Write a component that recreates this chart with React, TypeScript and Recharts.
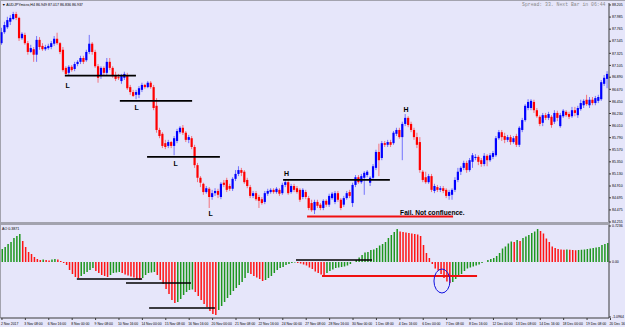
import React from 'react';
import { ComposedChart, Bar, XAxis, YAxis, ReferenceLine, ReferenceDot, Cell } from 'recharts';

const OPEN = [
  87.51, 87.71, 87.80, 87.90, 87.95, 88.04, 87.97, 87.60, 87.66, 87.51,
  87.35, 87.40, 87.30, 87.57, 87.46, 87.40, 87.42, 87.44, 87.50, 87.59,
  87.51, 87.39, 87.06, 86.97, 87.08, 87.04, 87.13, 87.17, 87.24, 87.20,
  87.35, 87.50, 87.35, 87.09, 86.91, 87.06, 86.97, 87.17, 87.06, 86.93,
  86.89, 86.82, 86.88, 86.93, 86.71, 86.62, 86.57, 86.57, 86.66, 86.75,
  86.71, 86.79, 86.71, 86.37, 85.93, 85.86, 85.69, 85.64, 85.71, 85.64,
  85.73, 85.89, 85.97, 85.88, 85.75, 85.78, 85.62, 85.29, 85.06, 84.95,
  84.80, 84.86, 84.71, 84.78, 84.82, 84.71, 84.97, 85.02, 84.91, 84.86,
  85.04, 85.13, 85.20, 85.17, 85.02, 84.89, 84.73, 84.78, 84.71, 84.67,
  84.62, 84.77, 84.80, 84.84, 84.80, 84.84, 84.78, 84.93, 84.98, 84.80,
  84.91, 84.87, 84.84, 84.71, 84.80, 84.69, 84.60, 84.47, 84.62, 84.57,
  84.51, 84.64, 84.57, 84.69, 84.62, 84.78, 84.66, 84.57, 84.69, 84.80,
  84.60, 84.93, 85.07, 84.98, 85.06, 85.11, 84.97, 85.06, 85.24, 85.53,
  85.42, 85.69, 85.66, 85.71, 85.69, 85.86, 85.93, 85.80, 86.04, 86.15,
  86.04, 85.93, 85.80, 85.71, 85.17, 85.07, 84.98, 85.09, 84.82, 84.89,
  84.84, 84.87, 84.84, 84.73, 84.75, 84.84, 85.02, 85.17, 85.24, 85.33,
  85.20, 85.35, 85.42, 85.44, 85.38, 85.31, 85.46, 85.38, 85.44, 85.47,
  85.78, 85.89, 85.82, 85.75, 85.80, 85.71, 85.82, 85.66, 85.93, 86.11,
  86.33, 86.33, 86.44, 86.29, 86.17, 86.06, 86.20, 86.15, 86.17, 86.08,
  86.24, 86.00, 86.18, 86.26, 86.22, 86.18, 86.29, 86.20, 86.31, 86.38,
  86.48, 86.38, 86.48, 86.42, 86.46, 86.49, 86.77, 86.86,
];
const HIGH = [
  87.79, 87.90, 87.99, 88.02, 88.08, 88.08, 87.99, 87.71, 87.70, 87.55,
  87.48, 87.44, 87.64, 87.62, 87.51, 87.48, 87.50, 87.55, 87.64, 87.70,
  87.53, 87.44, 87.09, 87.11, 87.11, 87.17, 87.20, 87.28, 87.28, 87.39,
  87.66, 87.53, 87.39, 87.13, 87.09, 87.09, 87.24, 87.24, 87.09, 86.99,
  86.95, 86.95, 86.99, 86.97, 86.75, 86.66, 86.66, 86.73, 86.79, 86.77,
  86.82, 86.82, 86.75, 86.51, 85.97, 85.89, 85.75, 85.75, 85.73, 85.82,
  85.95, 86.00, 86.02, 85.91, 85.84, 85.82, 85.66, 85.33, 85.09, 84.97,
  84.91, 84.89, 84.84, 84.87, 84.86, 84.98, 85.02, 85.06, 84.95, 85.07,
  85.20, 85.27, 85.24, 85.20, 85.06, 84.93, 84.82, 84.82, 84.75, 84.71,
  84.82, 84.86, 84.87, 84.87, 84.89, 84.87, 84.97, 85.02, 85.02, 84.95,
  84.95, 84.91, 84.87, 84.87, 84.84, 84.73, 84.66, 84.66, 84.66, 84.60,
  84.67, 84.67, 84.77, 84.80, 84.82, 84.82, 84.69, 84.73, 84.82, 84.84,
  84.97, 85.11, 85.11, 85.13, 85.18, 85.20, 85.09, 85.31, 85.57, 85.68,
  85.73, 85.73, 85.75, 85.75, 85.91, 85.97, 85.97, 86.08, 86.22, 86.18,
  86.08, 85.97, 85.88, 85.80, 85.20, 85.17, 85.13, 85.13, 84.95, 84.93,
  84.91, 84.91, 84.87, 84.84, 84.87, 85.07, 85.24, 85.27, 85.37, 85.37,
  85.42, 85.51, 85.49, 85.47, 85.42, 85.51, 85.49, 85.51, 85.55, 85.82,
  85.93, 85.93, 85.88, 85.84, 85.84, 85.82, 85.86, 86.00, 86.15, 86.40,
  86.49, 86.49, 86.48, 86.33, 86.20, 86.24, 86.24, 86.26, 86.20, 86.29,
  86.28, 86.24, 86.31, 86.29, 86.26, 86.35, 86.35, 86.37, 86.48, 86.49,
  86.57, 86.53, 86.53, 86.55, 86.57, 86.84, 86.93, 87.00,
];
const LOW = [
  87.48, 87.68, 87.77, 87.84, 87.93, 87.93, 87.55, 87.57, 87.48, 87.30,
  87.33, 87.17, 87.17, 87.39, 87.37, 87.37, 87.39, 87.40, 87.46, 87.48,
  87.31, 86.99, 86.91, 86.93, 86.99, 87.00, 87.09, 87.13, 87.13, 87.17,
  87.31, 87.30, 87.06, 86.79, 86.86, 86.93, 86.93, 87.02, 86.88, 86.82,
  86.84, 86.77, 86.84, 86.66, 86.57, 86.53, 86.49, 86.51, 86.62, 86.68,
  86.69, 86.68, 86.29, 85.88, 85.78, 85.60, 85.58, 85.60, 85.60, 85.47,
  85.69, 85.86, 85.84, 85.71, 85.69, 85.58, 85.24, 84.98, 84.89, 84.75,
  84.77, 84.51, 84.66, 84.73, 84.69, 84.67, 84.89, 84.80, 84.82, 84.82,
  85.00, 85.09, 85.09, 84.95, 84.87, 84.69, 84.69, 84.64, 84.51, 84.57,
  84.58, 84.73, 84.77, 84.77, 84.77, 84.73, 84.75, 84.89, 84.75, 84.77,
  84.80, 84.77, 84.62, 84.67, 84.67, 84.47, 84.44, 84.40, 84.51, 84.47,
  84.47, 84.53, 84.53, 84.66, 84.58, 84.62, 84.47, 84.53, 84.66, 84.69,
  84.53, 84.89, 84.95, 84.95, 84.75, 85.07, 84.91, 85.02, 85.20, 85.09,
  85.38, 85.62, 85.62, 85.62, 85.66, 85.82, 85.77, 85.38, 86.00, 85.98,
  85.89, 85.75, 85.60, 85.15, 84.98, 84.95, 84.95, 84.80, 84.78, 84.80,
  84.80, 84.78, 84.69, 84.66, 84.66, 84.80, 84.98, 85.11, 85.20, 85.15,
  85.17, 85.24, 85.38, 85.29, 85.26, 85.27, 85.27, 85.35, 85.40, 85.44,
  85.75, 85.73, 85.69, 85.71, 85.66, 85.68, 85.62, 85.62, 85.89, 86.08,
  86.29, 86.29, 86.24, 86.15, 86.00, 86.00, 86.11, 86.11, 85.97, 86.04,
  86.09, 85.97, 86.15, 86.17, 86.13, 86.15, 86.18, 86.15, 86.28, 86.33,
  86.37, 86.33, 86.38, 86.38, 86.42, 86.46, 86.73, 86.69,
];
const CLOSE = [
  87.71, 87.84, 87.93, 87.97, 88.04, 87.97, 87.60, 87.68, 87.51, 87.35,
  87.42, 87.30, 87.57, 87.44, 87.40, 87.44, 87.46, 87.51, 87.59, 87.51,
  87.35, 87.02, 86.95, 87.08, 87.02, 87.13, 87.17, 87.24, 87.17, 87.35,
  87.50, 87.35, 87.09, 86.88, 87.06, 86.97, 87.17, 87.06, 86.91, 86.86,
  86.88, 86.91, 86.95, 86.69, 86.62, 86.55, 86.62, 86.69, 86.75, 86.71,
  86.79, 86.71, 86.33, 85.93, 85.82, 85.64, 85.62, 85.71, 85.64, 85.78,
  85.91, 85.97, 85.88, 85.75, 85.80, 85.62, 85.29, 85.06, 84.97, 84.80,
  84.87, 84.71, 84.78, 84.82, 84.75, 84.95, 84.93, 84.84, 84.86, 85.04,
  85.13, 85.20, 85.15, 84.98, 84.91, 84.73, 84.78, 84.67, 84.64, 84.60,
  84.78, 84.82, 84.84, 84.80, 84.86, 84.77, 84.93, 84.98, 84.78, 84.91,
  84.84, 84.80, 84.66, 84.84, 84.71, 84.51, 84.47, 84.62, 84.55, 84.51,
  84.64, 84.57, 84.73, 84.77, 84.78, 84.66, 84.51, 84.69, 84.78, 84.73,
  84.93, 85.07, 84.98, 85.09, 85.15, 85.17, 85.06, 85.27, 85.53, 85.38,
  85.69, 85.66, 85.71, 85.66, 85.88, 85.93, 85.80, 86.04, 86.15, 86.02,
  85.93, 85.80, 85.66, 85.20, 85.02, 84.98, 85.09, 84.84, 84.91, 84.84,
  84.87, 84.82, 84.73, 84.80, 84.84, 85.02, 85.17, 85.24, 85.33, 85.20,
  85.38, 85.47, 85.44, 85.35, 85.31, 85.46, 85.38, 85.47, 85.51, 85.78,
  85.89, 85.80, 85.75, 85.80, 85.71, 85.78, 85.66, 85.97, 86.11, 86.37,
  86.44, 86.46, 86.29, 86.18, 86.04, 86.20, 86.15, 86.22, 86.02, 86.24,
  86.15, 86.20, 86.28, 86.20, 86.17, 86.29, 86.24, 86.33, 86.42, 86.46,
  86.40, 86.48, 86.42, 86.51, 86.53, 86.80, 86.88, 86.95,
];
const AO = [
  0.26, 0.30, 0.36, 0.40, 0.48, 0.52, 0.56, 0.42, 0.30, 0.20,
  0.16, 0.10, 0.06, 0.04, 0.05, 0.04, 0.03, 0.05, 0.06, 0.05,
  0.02, -0.02, -0.06, -0.16, -0.24, -0.30, -0.32, -0.28, -0.24, -0.20,
  -0.16, -0.12, -0.18, -0.22, -0.26, -0.28, -0.30, -0.26, -0.22, -0.21,
  -0.20, -0.22, -0.25, -0.27, -0.29, -0.31, -0.34, -0.36, -0.32, -0.26,
  -0.22, -0.21, -0.20, -0.26, -0.36, -0.44, -0.54, -0.64, -0.76, -0.82,
  -0.80, -0.74, -0.66, -0.60, -0.56, -0.55, -0.60, -0.68, -0.76, -0.84,
  -0.90, -0.98, -1.04, -1.06, -0.96, -0.88, -0.80, -0.72, -0.66, -0.58,
  -0.52, -0.46, -0.40, -0.32, -0.22, -0.24, -0.28, -0.31, -0.34, -0.38,
  -0.36, -0.32, -0.28, -0.22, -0.16, -0.12, -0.10, -0.06, -0.04, -0.02,
  -0.01, -0.02, -0.03, -0.05, -0.07, -0.11, -0.14, -0.19, -0.22, -0.25,
  -0.27, -0.22, -0.18, -0.15, -0.12, -0.11, -0.10, -0.09, -0.07, -0.04,
  0.00, 0.04, 0.09, 0.14, 0.19, 0.20, 0.24, 0.25, 0.28, 0.33,
  0.36, 0.40, 0.48, 0.54, 0.60, 0.66, 0.61, 0.60, 0.59, 0.58,
  0.57, 0.56, 0.55, 0.52, 0.34, 0.18, 0.08, -0.04, -0.13, -0.17,
  -0.24, -0.32, -0.39, -0.42, -0.40, -0.34, -0.30, -0.24, -0.18, -0.13,
  -0.11, -0.09, -0.07, -0.05, -0.02, 0.00, 0.04, 0.06, 0.08, 0.12,
  0.18, 0.27, 0.31, 0.37, 0.41, 0.40, 0.44, 0.42, 0.48, 0.51,
  0.54, 0.58, 0.61, 0.66, 0.62, 0.57, 0.47, 0.40, 0.31, 0.28,
  0.26, 0.25, 0.245, 0.25, 0.245, 0.24, 0.235, 0.24, 0.245, 0.25,
  0.26, 0.27, 0.28, 0.29, 0.30, 0.34, 0.36, 0.38,
];

const PRICE_TICKS = [84.255, 84.475, 84.695, 84.910, 85.130, 85.350, 85.570, 85.790, 86.010, 86.230,
  86.450, 86.670, 86.890, 87.105, 87.325, 87.545, 87.765, 87.985, 88.205];
const AO_TICKS = [0.72, 0, -1.10];
const AO_TICK_LABELS = ['0.7236', '0.00', '-1.0964'];
const DATE_TICK_IDX = [0, 8, 16, 24, 32, 40, 48, 56, 64, 72, 80, 88, 96, 104, 112, 120, 128, 136, 144, 152, 160, 168, 176, 184, 192, 200, 208];
const DATE_LABELS = ['2 Nov 2017', '3 Nov 08:00', '6 Nov 16:00', '8 Nov 00:00', '9 Nov 08:00', '10 Nov 16:00', '14 Nov 00:00',
  '15 Nov 08:00', '16 Nov 16:00', '20 Nov 00:00', '21 Nov 08:00', '22 Nov 16:00', '24 Nov 00:00', '27 Nov 08:00',
  '28 Nov 16:00', '30 Nov 00:00', '1 Dec 08:00', '4 Dec 16:00', '6 Dec 00:00', '7 Dec 08:00', '8 Dec 16:00',
  '12 Dec 00:00', '13 Dec 08:00', '14 Dec 16:00', '18 Dec 00:00', '19 Dec 08:00', '20 Dec 16:00'];

// annotations: [startIndex, endIndex, level]
const PRICE_LINES = [[21.5, 45.8, 86.92], [40.3, 65.0, 86.46], [49.6, 74.5, 85.44], [96.1, 132.6, 85.02]];
const PRICE_RED_LINE = [104.3, 154.2, 84.356];
const PRICE_MARKS = [
  { i: 22.46, p: 86.736, t: 'L' }, { i: 46.05, p: 86.343, t: 'L' }, { i: 59.4, p: 85.311, t: 'L' },
  { i: 71.35, p: 84.414, t: 'L' }, { i: 97.3, p: 85.142, t: 'H' }, { i: 138.1, p: 86.294, t: 'H' },
];
const FAIL_NOTE = { i: 136.1, p: 84.383, t: 'Fail. Not confluence.' };
const AO_LINES = [[25.6, 47.9, -0.34], [42.4, 64.6, -0.42], [50.3, 72.8, -0.92], [100.5, 126.5, 0.04]];
const AO_RED_LINE = [109.4, 162.4, -0.28];
const AO_CIRCLE = { i: 150.4, v: -0.38 };

const BG = '#E6E6FA';
const FRAME = '#A3A3AE';
const BULL = '#0000FF';
const BEAR = '#FF0000';
const AO_UP = '#1E961E';
const AO_DN = '#FF1414';
const AXIS = '#3a3a3a';
const FONT = '"Liberation Sans", Arial, sans-serif';

const candles = OPEN.map((o, i) => ({ i, o, h: HIGH[i], l: LOW[i], c: CLOSE[i], range: [LOW[i], HIGH[i]] }));
const aoRows = AO.map((v, i) => ({ i, ao: v, up: i === 0 ? true : v > AO[i - 1] }));

const Candle = (props: any) => {
  const { x, y, width, height, payload } = props;
  if (!payload || x == null) return null;
  const { o, h, l, c } = payload;
  const color = c >= o ? BULL : BEAR;
  const top0 = Math.min(y, y + height);
  const hgt = Math.abs(height);
  const span = h - l || 1;
  const py = (v: number) => top0 + ((h - v) / span) * hgt;
  const cx = x + width / 2;
  const bt = py(Math.max(o, c));
  const bb = py(Math.min(o, c));
  return (
    <g>
      <line x1={cx} x2={cx} y1={top0} y2={top0 + hgt} stroke={color} strokeOpacity={0.5} strokeWidth={1} />
      <rect x={cx - 1.1} y={bt} width={2.2} height={Math.max(1, bb - bt)} fill={color} />
    </g>
  );
};

const DateTick = (props: any) => {
  const { x, y, payload } = props;
  const k = DATE_TICK_IDX.indexOf(payload.value);
  if (k < 0) return null;
  return (
    <text x={x - 1} y={y + 2.5} fontSize={3.4} fontFamily={FONT} fill="#000" textAnchor="start">{DATE_LABELS[k]}</text>
  );
};

const PriceTick = (props: any) => {
  const { x, y, payload } = props;
  return (
    <text x={x} y={y + 1.2} fontSize={3.5} fontFamily={FONT} fill="#000" textAnchor="start">{Number(payload.value).toFixed(3)}</text>
  );
};

const AoTick = (props: any) => {
  const { x, y, payload } = props;
  const k = AO_TICKS.indexOf(payload.value);
  return (
    <text x={x} y={y + 1.2} fontSize={3.5} fontFamily={FONT} fill="#000" textAnchor="start">{AO_TICK_LABELS[k]}</text>
  );
};

const markShape = (t: string, size: number, anchor: string) => (p: any) => (
  <text x={p.cx} y={p.cy} textAnchor={anchor} dominantBaseline={anchor === 'middle' ? 'central' : 'alphabetic'}
    fontSize={size} fontWeight="bold" fontFamily={FONT} fill="#000">{t}</text>
);

const ellipseShape = (p: any) => (
  <ellipse cx={p.cx} cy={p.cy} rx={8} ry={12} fill="none" stroke="#1010E0" strokeWidth={1} />
);

export default function App() {
  return (
    <div style={{ position: 'absolute', left: 0, top: 0, width: 625, height: 327, background: BG, overflow: 'hidden' }}>
      <div style={{ position: 'absolute', left: 0, top: 0, width: 625, height: 1, background: FRAME }} />
      <div style={{ position: 'absolute', left: 0, top: 0, width: 1, height: 318, background: FRAME }} />
      <div style={{ position: 'absolute', left: 0, top: 222, width: 610, height: 3, background: FRAME }} />

      <div style={{ position: 'absolute', left: 0, top: 0 }}>
        <ComposedChart width={625} height={227} data={candles} margin={{ top: 3, right: 0, bottom: 5, left: 0.5 }}>
          <XAxis type="number" dataKey="i" domain={[-0.5, 207.5]} allowDataOverflow hide />
          <YAxis orientation="right" type="number" domain={[84.255, 88.241]} allowDataOverflow ticks={PRICE_TICKS}
            interval={0} width={16} tick={<PriceTick />} tickSize={2} tickMargin={1}
            axisLine={{ stroke: AXIS }} tickLine={{ stroke: AXIS }} />
          <Bar dataKey="range" barSize={2} shape={<Candle />} isAnimationActive={false} />
          {PRICE_LINES.map((s, k) => (
            <ReferenceLine key={'pl' + k} segment={[{ x: s[0], y: s[2] }, { x: s[1], y: s[2] }]} stroke="#000" strokeWidth={1.7} ifOverflow="visible" />
          ))}
          <ReferenceLine segment={[{ x: PRICE_RED_LINE[0], y: PRICE_RED_LINE[2] }, { x: PRICE_RED_LINE[1], y: PRICE_RED_LINE[2] }]}
            stroke="#F01010" strokeWidth={2} ifOverflow="visible" />
          {PRICE_MARKS.map((m, k) => (
            <ReferenceDot key={'pm' + k} x={m.i} y={m.p} r={1} ifOverflow="visible" shape={markShape(m.t, 7, 'middle')} />
          ))}
          <ReferenceDot x={FAIL_NOTE.i} y={FAIL_NOTE.p} r={1} ifOverflow="visible" shape={markShape(FAIL_NOTE.t, 6.6, 'start')} />
        </ComposedChart>
      </div>

      <div style={{ position: 'absolute', left: 0, top: 0 }}>
        <ComposedChart width={625} height={327} data={aoRows} margin={{ top: 225, right: 0, bottom: 0, left: 0.5 }}>
          <XAxis type="number" dataKey="i" domain={[-0.5, 207.5]} allowDataOverflow ticks={DATE_TICK_IDX} interval={0}
            height={9} tick={<DateTick />} tickSize={2} tickMargin={2} axisLine={{ stroke: AXIS }} tickLine={{ stroke: AXIS }} />
          <YAxis orientation="right" type="number" domain={[-1.12, 0.74]} allowDataOverflow ticks={AO_TICKS} interval={0}
            width={16} tick={<AoTick />} tickSize={2} tickMargin={1} axisLine={{ stroke: AXIS }} tickLine={{ stroke: AXIS }} />
          <Bar dataKey="ao" barSize={1.5} isAnimationActive={false}>
            {aoRows.map((r) => <Cell key={r.i} fill={r.up ? AO_UP : AO_DN} />)}
          </Bar>
          {AO_LINES.map((s, k) => (
            <ReferenceLine key={'al' + k} segment={[{ x: s[0], y: s[2] }, { x: s[1], y: s[2] }]} stroke="#000" strokeWidth={1.7} ifOverflow="visible" />
          ))}
          <ReferenceLine segment={[{ x: AO_RED_LINE[0], y: AO_RED_LINE[2] }, { x: AO_RED_LINE[1], y: AO_RED_LINE[2] }]}
            stroke="#F01010" strokeWidth={2} ifOverflow="visible" />
          <ReferenceDot x={AO_CIRCLE.i} y={AO_CIRCLE.v} r={1} ifOverflow="visible" shape={ellipseShape} />
        </ComposedChart>
      </div>

      <svg width={625} height={327} style={{ position: 'absolute', left: 0, top: 0, pointerEvents: 'none' }}>
        <text x={2} y={5.5} fontSize={3.6} fontFamily={FONT} fill="#000">▼ AUDJPYmicro,H4  86.949 87.017 86.836 86.937</text>
        <text x={522} y={6} fontSize={4.8} fontFamily='"Liberation Mono", monospace' fill="#8a8a8a">Spread: 33. Next Bar in 06:44</text>
        <text x={2} y={229.5} fontSize={3.6} fontFamily={FONT} fill="#000">AO 0.3871</text>
      </svg>
    </div>
  );
}
